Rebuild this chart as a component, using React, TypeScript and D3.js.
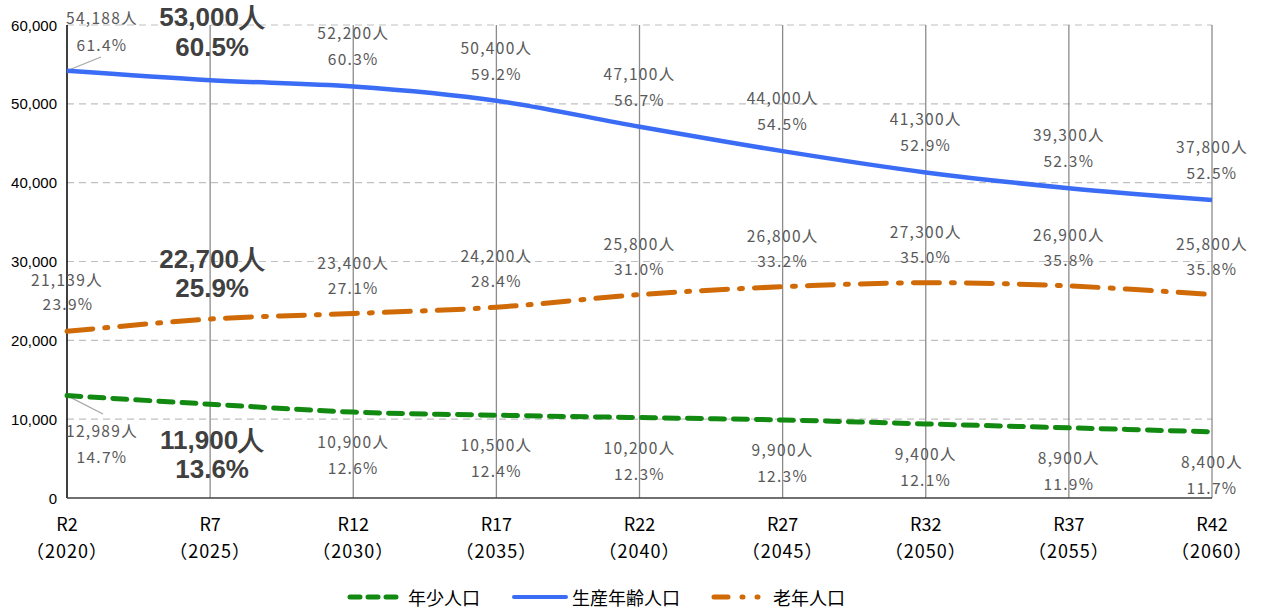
import React from "react";
import * as d3 from "d3";

const categories = ["R2", "R7", "R12", "R17", "R22", "R27", "R32", "R37", "R42"];
const years = ["（2020）", "（2025）", "（2030）", "（2035）", "（2040）", "（2045）", "（2050）", "（2055）", "（2060）"];
const youngValues = [12989, 11900, 10900, 10500, 10200, 9900, 9400, 8900, 8400];
const workingValues = [54188, 53000, 52200, 50400, 47100, 44000, 41300, 39300, 37800];
const elderlyValues = [21139, 22700, 23400, 24200, 25800, 26800, 27300, 26900, 25800];
const youngPct = ["14.7%", "13.6%", "12.6%", "12.4%", "12.3%", "12.3%", "12.1%", "11.9%", "11.7%"];
const workingPct = ["61.4%", "60.5%", "60.3%", "59.2%", "56.7%", "54.5%", "52.9%", "52.3%", "52.5%"];
const elderlyPct = ["23.9%", "25.9%", "27.1%", "28.4%", "31.0%", "33.2%", "35.0%", "35.8%", "35.8%"];
const yTicks = [0, 10000, 20000, 30000, 40000, 50000, 60000];
const legendNames = ["年少人口", "生産年齢人口", "老年人口"];

const W = 1262;
const H = 609;
const left = 67;
const right = 1212;
const top = 25;
const bottom = 498;

const BLUE = "#3b6cf5";
const GREEN = "#128a12";
const ORANGE = "#cf6a06";
const LABEL = "#595959";
const JP = "'Noto Sans CJK JP', 'Noto Sans', sans-serif";
const SANS = "'Liberation Sans', Arial, sans-serif";

export default function App() {
  const x = d3.scalePoint<string>().domain(categories).range([left, right]);
  const y = d3.scaleLinear().domain([0, 60000]).range([bottom, top]);
  const line = d3
    .line<number>()
    .x((_, i) => x(categories[i]) as number)
    .y((d) => y(d))
    .curve(d3.curveCatmullRom.alpha(0.5));

  const fmt = (v: number) => d3.format(",")(v) + "人";

  const smallLabel = (key: string, cx: number, cy: number, text: string, anchor = "middle") => (
    <text key={key} x={cx} y={cy} textAnchor={anchor} dominantBaseline="central" fontFamily={JP} fontSize={15.5} letterSpacing={1.3} fill={LABEL}>
      {text}
    </text>
  );
  const bigLabel = (key: string, cx: number, cy: number, text: string) => (
    <text key={key} x={cx} y={cy} textAnchor="middle" dominantBaseline="central" fontFamily={SANS} fontWeight="bold" fontSize={26} fill="#404040">
      {text}
    </text>
  );

  const labels: React.ReactNode[] = [];
  categories.forEach((c, i) => {
    const cx = x(c) as number;
    if (i === 0) return;
    if (i === 1) {
      labels.push(bigLabel("wv" + i, cx + 2, 17, fmt(workingValues[i])));
      labels.push(bigLabel("wp" + i, cx + 2, 47, workingPct[i]));
      labels.push(bigLabel("ev" + i, cx + 2, 259, fmt(elderlyValues[i])));
      labels.push(bigLabel("ep" + i, cx + 2, 288, elderlyPct[i]));
      labels.push(bigLabel("yv" + i, cx + 2, 440, fmt(youngValues[i])));
      labels.push(bigLabel("yp" + i, cx + 2, 469, youngPct[i]));
      return;
    }
    const wy = y(workingValues[i]);
    labels.push(smallLabel("wv" + i, cx, wy - 54, fmt(workingValues[i])));
    labels.push(smallLabel("wp" + i, cx, wy - 28, workingPct[i]));
    const ey = y(elderlyValues[i]);
    labels.push(smallLabel("ev" + i, cx, ey - 52, fmt(elderlyValues[i])));
    labels.push(smallLabel("ep" + i, cx, ey - 27, elderlyPct[i]));
    const yy = y(youngValues[i]);
    labels.push(smallLabel("yv" + i, cx, yy + 29, fmt(youngValues[i])));
    labels.push(smallLabel("yp" + i, cx, yy + 55, youngPct[i]));
  });
  const x0 = x(categories[0]) as number;
  labels.push(smallLabel("w0v", x0 + 35, 17, fmt(workingValues[0])));
  labels.push(smallLabel("w0p", x0 + 35, 44, workingPct[0]));
  labels.push(smallLabel("e0v", x0, 279, fmt(elderlyValues[0])));
  labels.push(smallLabel("e0p", x0 + 1, 303, elderlyPct[0]));
  labels.push(smallLabel("y0v", x0 + 35, 430, fmt(youngValues[0])));
  labels.push(smallLabel("y0p", x0 + 35, 456, youngPct[0]));

  return (
    <svg width={W} height={H} style={{ position: "absolute", left: 0, top: 0, background: "#fff" }}>
      {yTicks.slice(1).map((t) => (
        <line key={"h" + t} x1={left} x2={right} y1={y(t)} y2={y(t)} stroke="#c0c0c0" strokeWidth={1.2} strokeDasharray="7,5" />
      ))}
      {categories.slice(1).map((c) => (
        <line key={"v" + c} x1={x(c)} x2={x(c)} y1={top} y2={bottom} stroke="#8c8c8c" strokeWidth={1.3} />
      ))}
      <line x1={left} x2={left} y1={top} y2={bottom} stroke="#000" strokeWidth={1.5} />
      <line x1={left} x2={right} y1={bottom} y2={bottom} stroke="#404040" strokeWidth={1.5} />
      {yTicks.map((t) => (
        <text key={"yt" + t} x={57} y={y(t)} textAnchor="end" dominantBaseline="central" fontFamily={SANS} fontSize={15} fill="#000">
          {d3.format(",")(t)}
        </text>
      ))}
      {categories.map((c, i) => (
        <g key={"xt" + c}>
          <text x={x(c)} y={523} textAnchor="middle" dominantBaseline="central" fontFamily={JP} fontSize={18} fill="#000">
            {c}
          </text>
          <text x={x(c)} y={550} textAnchor="middle" dominantBaseline="central" fontFamily={JP} fontSize={18} letterSpacing={1} fill="#000">
            {years[i]}
          </text>
        </g>
      ))}
      <line x1={x0} y1={y(workingValues[0])} x2={x0 + 34} y2={57} stroke="#a6a6a6" strokeWidth={1.2} />
      <line x1={x0} y1={y(youngValues[0])} x2={x0 + 36} y2={414} stroke="#a6a6a6" strokeWidth={1.2} />
      <path d={line(workingValues) || ""} fill="none" stroke={BLUE} strokeWidth={4.5} />
      <path d={line(elderlyValues) || ""} fill="none" stroke={ORANGE} strokeWidth={5} strokeDasharray="26,12,3,12" strokeLinecap="round" />
      <path d={line(youngValues) || ""} fill="none" stroke={GREEN} strokeWidth={5} strokeDasharray="14,9" strokeLinecap="round" />
      {labels}
      <g>
        <line x1={350} x2={396} y1={597} y2={597} stroke={GREEN} strokeWidth={5} strokeDasharray="10,8" strokeLinecap="round" />
        <text x={408} y={597} dominantBaseline="central" fontFamily={JP} fontSize={18} fill="#000">{legendNames[0]}</text>
        <line x1={514} x2={566} y1={597} y2={597} stroke={BLUE} strokeWidth={4} strokeLinecap="round" />
        <text x={572} y={597} dominantBaseline="central" fontFamily={JP} fontSize={18} fill="#000">{legendNames[1]}</text>
        <line x1={714} x2={766} y1={597} y2={597} stroke={ORANGE} strokeWidth={5} strokeDasharray="14,14,1,14,1,30" strokeLinecap="round" />
        <text x={773} y={597} dominantBaseline="central" fontFamily={JP} fontSize={18} fill="#000">{legendNames[2]}</text>
      </g>
    </svg>
  );
}
